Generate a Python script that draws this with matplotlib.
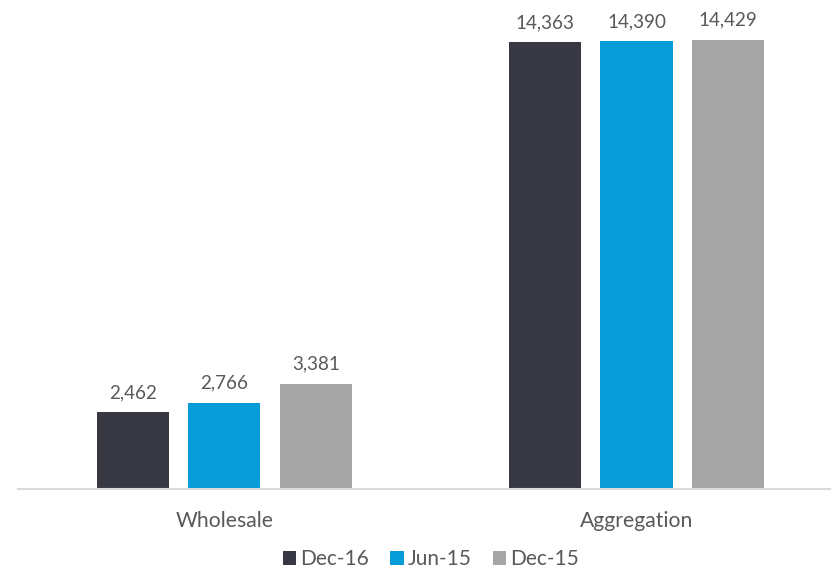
import matplotlib
matplotlib.use("Agg")
import matplotlib.pyplot as plt
import numpy as np

# data
categories = ["Wholesale", "Aggregation"]
series_names = ["Dec-16", "Jun-15", "Dec-15"]
dec16 = [2462, 14363]
jun15 = [2766, 14390]
dec15 = [3381, 14429]

COLORS = ["#383843", "#089dd9", "#a5a5a5"]
TEXT = "#595959"

plt.rcParams["font.family"] = ["Lato", "DejaVu Sans"]

fig = plt.figure(figsize=(8.31, 5.68), dpi=100)
W, H = 831, 568
ax = fig.add_axes([18 / W, 1 - 489 / H, (831 - 18) / W, 489 / H])

x = np.arange(len(categories))
width = 0.175
step = 0.222
for i, (name, vals) in enumerate(zip(series_names, [dec16, jun15, dec15])):
    bars = ax.bar(x + (i - 1) * step, vals, width, color=COLORS[i], label=name)
    ax.bar_label(bars, labels=[f"{v:,}" for v in vals], padding=8,
                 fontsize=13.6, color=TEXT, clip_on=False)

ax.set_xlim(-0.501, 1.472)
ax.set_ylim(0, 15713)
ax.set_xticks(x)
ax.set_xticklabels(categories, fontsize=15.2, color=TEXT)
ax.tick_params(axis="x", length=0, pad=16)
ax.set_yticks([])
for s in ["top", "right", "left"]:
    ax.spines[s].set_visible(False)
ax.spines["bottom"].set_color("#d9d9d9")
ax.spines["bottom"].set_linewidth(1.5)

leg = fig.legend(loc="center", bbox_to_anchor=(431 / W, 1 - 559 / H), ncol=3,
                 frameon=False, fontsize=15, handlelength=0.65, handleheight=0.65,
                 handletextpad=0.2, columnspacing=1.0)
for t in leg.get_texts():
    t.set_color(TEXT)

fig.savefig("out.png", dpi=100)
